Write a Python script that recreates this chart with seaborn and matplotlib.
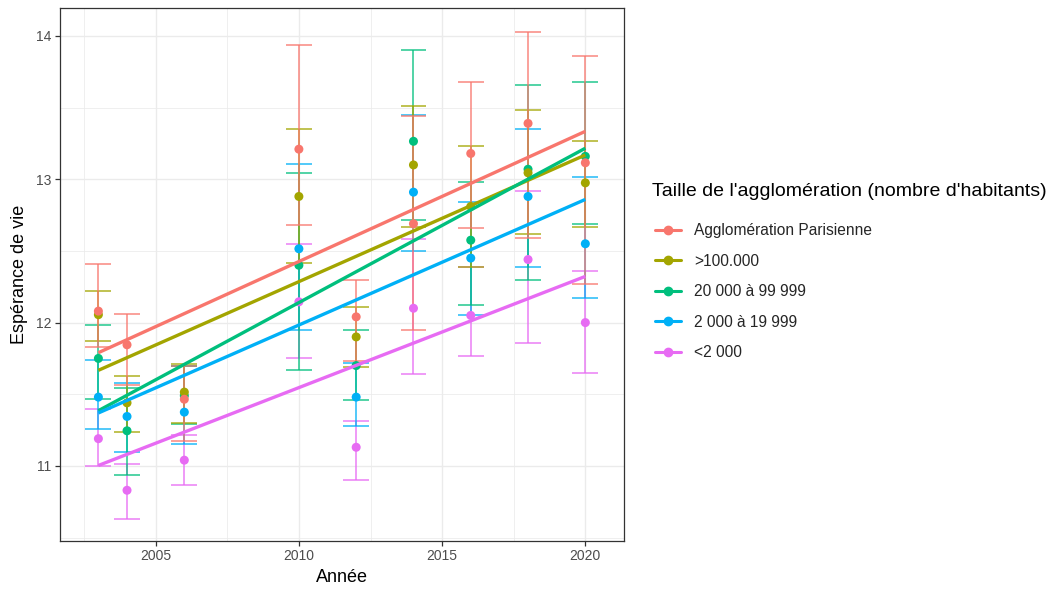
import numpy as np
import pandas as pd
import matplotlib
matplotlib.use("Agg")
import matplotlib.pyplot as plt
import seaborn as sns
from matplotlib.lines import Line2D
from matplotlib.ticker import MultipleLocator

years = [2003, 2004, 2006, 2010, 2012, 2014, 2016, 2018, 2020]
categories = ["Agglomération Parisienne", ">100.000", "20 000 à 99 999",
              "2 000 à 19 999", "<2 000"]
colors = ["#F8766D", "#A3A500", "#00BF7D", "#00B0F6", "#E76BF3"]
legend_title = "Taille de l'agglomération (nombre d'habitants)"

paris_mean = [12.08, 11.845, 11.465, 13.21, 12.04, 12.69, 13.18, 13.39, 13.115]
paris_low = [11.83, 11.565, 11.175, 12.68, 11.73, 11.945, 12.66, 12.59, 12.27]
paris_high = [12.41, 12.06, 11.70, 13.94, 12.30, 13.44, 13.68, 14.03, 13.857]

gt100_mean = [12.055, 11.44, 11.515, 12.88, 11.90, 13.10, 12.81, 13.045, 12.975]
gt100_low = [11.87, 11.235, 11.30, 12.415, 11.69, 12.665, 12.39, 12.62, 12.665]
gt100_high = [12.22, 11.625, 11.71, 13.35, 12.11, 13.51, 13.23, 13.48, 13.265]

c20k_mean = [11.75, 11.245, 11.49, 12.40, 11.70, 13.265, 12.575, 13.07, 13.16]
c20k_low = [11.47, 10.94, 11.295, 11.67, 11.46, 12.715, 12.12, 12.30, 12.69]
c20k_high = [11.98, 11.545, 11.70, 13.045, 11.95, 13.90, 12.98, 13.66, 13.68]

c2k_mean = [11.48, 11.345, 11.375, 12.515, 11.48, 12.91, 12.45, 12.88, 12.55]
c2k_low = [11.26, 11.10, 11.155, 11.945, 11.275, 12.50, 12.05, 12.39, 12.175]
c2k_high = [11.74, 11.58, 11.70, 13.11, 11.72, 13.45, 12.84, 13.35, 13.015]

lt2k_mean = [11.19, 10.83, 11.04, 12.145, 11.13, 12.10, 12.05, 12.44, 12.0]
lt2k_low = [11.0, 10.63, 10.865, 11.75, 10.90, 11.64, 11.765, 11.86, 11.65]
lt2k_high = [11.40, 11.015, 11.215, 12.55, 11.31, 12.58, 12.39, 12.915, 12.36]

means = [paris_mean, gt100_mean, c20k_mean, c2k_mean, lt2k_mean]
lows = [paris_low, gt100_low, c20k_low, c2k_low, lt2k_low]
highs = [paris_high, gt100_high, c20k_high, c2k_high, lt2k_high]

frames = []
for cat, m, lo, hi in zip(categories, means, lows, highs):
    frames.append(pd.DataFrame({"Année": years, "esp": m, "low": lo,
                                "high": hi, "cat": cat}))
df = pd.concat(frames, ignore_index=True)

sns.set_theme(style="white")
plt.rcParams["font.family"] = ["Liberation Sans", "DejaVu Sans"]

fig = plt.figure(figsize=(10.53, 5.89), dpi=100)
ax = fig.add_axes([60 / 1053, 1 - 541 / 589, (624 - 60) / 1053, (541 - 8) / 589])

palette = dict(zip(categories, colors))
cap_half = 0.45
draw_order = categories[::-1]

# error bars (last category drawn first so that Paris ends on top)
for i, cat in enumerate(draw_order):
    sub = df[df["cat"] == cat]
    c = palette[cat]
    z = 2 + i * 0.01
    ax.vlines(sub["Année"], sub["low"], sub["high"], color=c, lw=1.2,
              alpha=0.8, zorder=z)
    ax.hlines(sub["low"], sub["Année"] - cap_half, sub["Année"] + cap_half,
              color=c, lw=1.2, alpha=0.8, zorder=z)
    ax.hlines(sub["high"], sub["Année"] - cap_half, sub["Année"] + cap_half,
              color=c, lw=1.2, alpha=0.8, zorder=z)

# points
df_pts = pd.concat([df[df["cat"] == c] for c in draw_order], ignore_index=True)
sns.scatterplot(data=df_pts, x="Année", y="esp", hue="cat", hue_order=categories,
                palette=palette, s=42, edgecolor="none", legend=False,
                ax=ax, zorder=3)

# regression lines
for cat in categories:
    sub = df[df["cat"] == cat]
    sns.regplot(data=sub, x="Année", y="esp", ci=None, scatter=False,
                truncate=True, ax=ax,
                line_kws=dict(color=palette[cat], lw=2.4, zorder=4,
                              solid_capstyle="butt"))

ax.set_xlim(2001.66, 2021.35)
ax.set_ylim(10.476, 14.195)
ax.xaxis.set_major_locator(MultipleLocator(5))
ax.xaxis.set_minor_locator(MultipleLocator(2.5))
ax.yaxis.set_major_locator(MultipleLocator(1))
ax.yaxis.set_minor_locator(MultipleLocator(0.5))
ax.grid(which="major", color="#EBEBEB", lw=1.0, zorder=0)
ax.grid(which="minor", color="#EBEBEB", lw=0.55, zorder=0)
ax.set_axisbelow(True)
for s in ax.spines.values():
    s.set_color("#333333")
    s.set_linewidth(0.9)
ax.tick_params(which="major", length=3.5, width=0.9, color="#333333",
               labelsize=10, labelcolor="#4D4D4D", pad=2.5,
               bottom=True, left=True)
ax.tick_params(which="minor", length=0)
ax.set_xlabel("Année", fontsize=13, color="black", labelpad=4)
ax.set_ylabel("Espérance de vie", fontsize=13, color="black", labelpad=6)

fig.text(652 / 1053, 1 - 192 / 589, legend_title, ha="left", va="center",
         fontsize=14, color="black")
handles = [Line2D([0], [0], color=c, lw=2.2, marker="o", markersize=6)
           for c in colors]
leg = fig.legend(handles, categories, loc="upper left",
                 bbox_to_anchor=(655 / 1053, 1 - 223 / 589),
                 frameon=False, fontsize=11.2,
                 handlelength=1.67, handletextpad=0.83,
                 labelspacing=1.0, borderaxespad=0, borderpad=0)

fig.savefig("out.png", dpi=100)
